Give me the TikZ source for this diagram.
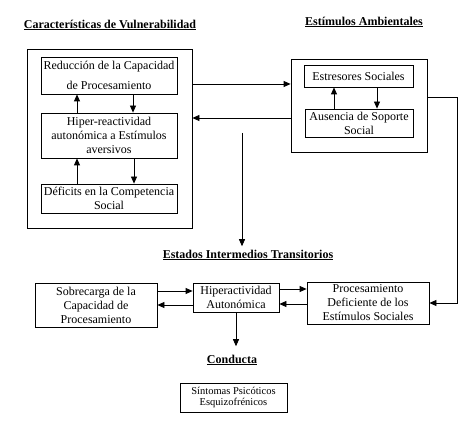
\documentclass[tikz,border=0pt]{standalone}
\usepackage{fontspec}
\setmainfont{Liberation Serif}
\usepackage{tikz}
\usetikzlibrary{arrows.meta,positioning}
\tikzset{
    %Define standard arrow tip
    >={Triangle[length=7pt,width=6pt]},
    %Define style for boxes
    caja/.style={
           rectangle,
           draw=black, thick,
           align=center,
           inner sep=2pt,
           font=\fontsize{12}{14}\selectfont},
    grupo/.style={
           rectangle,
           draw=black, thick},
    titulo/.style={
           font=\fontsize{12}{14}\selectfont\bfseries},
    % Define arrow style
    pil/.style={
           ->,
           thick}
}
\begin{document}
\begin{tikzpicture}[x=1pt,y=-1pt]
\useasboundingbox (0,0) rectangle (474,427);
% titles
\node[titulo](tvul) at (110,25){\underline{Características de Vulnerabilidad}};
\node[titulo](tamb) at (364,22){\underline{Estímulos Ambientales}};
\node[titulo](test) at (248,255){\underline{Estados Intermedios Transitorios}};
\node[titulo](tcon) at (232,360){\underline{Conducta}};
% groups
\node[grupo, minimum width=165pt, minimum height=179pt](vul) at (109.5,138.5){};
\node[grupo, minimum width=136pt, minimum height=93pt](amb) at (359,105.5){};
% boxes
\node[caja, minimum width=136pt, minimum height=37pt](red) at (109,75.5){Reducción de la Capacidad\\[6pt]de Procesamiento};
\node[caja, minimum width=136pt, minimum height=45pt](hip) at (109,135.5){Hiper-reactividad\\autonómica a Estímulos\\aversivos};
\node[caja, minimum width=136pt, minimum height=29pt](def) at (109,198.5){Déficits en la Competencia\\Social};
\node[caja, minimum width=109pt, minimum height=22pt](est) at (358.5,76){Estresores Sociales};
\node[caja, minimum width=108pt, minimum height=28pt](aus) at (359,123){Ausencia de Soporte\\Social};
\node[caja, minimum width=122pt, minimum height=44pt](sob) at (96,305){Sobrecarga de la\\Capacidad de\\Procesamiento};
\node[caja, minimum width=86pt, minimum height=29pt](hpa) at (236,297.5){Hiperactividad\\Autonómica};
\node[caja, minimum width=122pt, minimum height=42pt](pro) at (368,303){Procesamiento\\Deficiente de los\\Estímulos Sociales};
\node[caja, minimum width=107pt, minimum height=29pt, font=\fontsize{10.5}{11}\selectfont](sin) at (233.5,397.5){Síntomas Psicóticos\\Esquizofrénicos};
% inner arrows
\draw[pil] ([xshift=24pt]red.south) -- ([xshift=24pt]hip.north);
\draw[pil] ([xshift=-32pt]hip.north) -- ([xshift=-32pt]red.south);
\draw[pil] ([xshift=25pt]hip.south) -- ([xshift=25pt]def.north);
\draw[pil] ([xshift=-32pt]def.north) -- ([xshift=-32pt]hip.south);
\draw[pil] ([xshift=18.5pt]est.south) -- ([xshift=18pt]aus.north);
\draw[pil] ([xshift=-25pt]aus.north) -- ([xshift=-24.5pt]est.south);
% links between groups
\coordinate (a1) at ([yshift=54.5pt]vul.east);
\draw[pil] (a1) -- (a1 -| amb.west);
\coordinate (a2) at ([yshift=-12.5pt]amb.west);
\draw[pil] (a2) -- (a2 -| vul.east);
\coordinate (c1) at (242,133);
\draw[pil] (c1) -- (c1 |- test.north);
\coordinate (a3) at ([yshift=8.5pt]amb.east);
\draw[pil] (a3) -- ++(30,0) |- (pro.east);
% intermediate states
\coordinate (b1) at ([yshift=14pt]sob.east);
\draw[pil] (b1) -- (b1 -| hpa.west);
\coordinate (b2) at ([yshift=-7.5pt]hpa.west);
\draw[pil] (b2) -- (b2 -| sob.east);
\coordinate (b3) at ([yshift=8.5pt]hpa.east);
\draw[pil] (b3) -- (b3 -| pro.west);
\coordinate (b4) at ([yshift=-1pt]pro.west);
\draw[pil] (b4) -- (b4 -| hpa.east);
\draw[pil, shorten >=5pt] (hpa.south) -- (hpa.south |- tcon.north);
\end{tikzpicture}
\end{document}
